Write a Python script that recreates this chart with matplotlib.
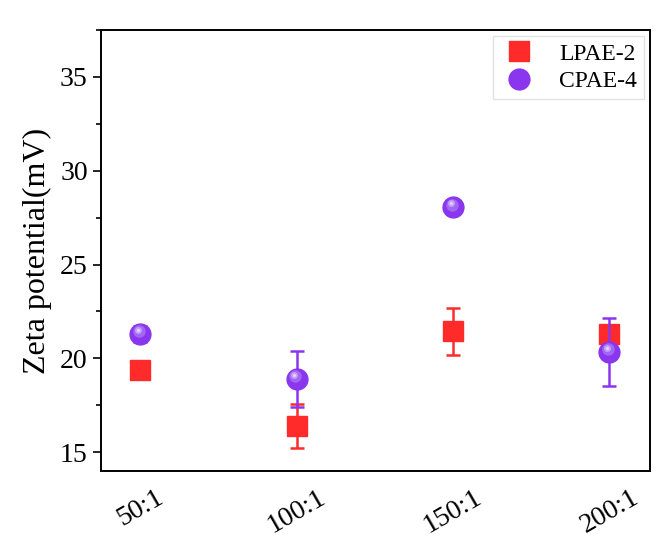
import matplotlib
matplotlib.use("Agg")
import matplotlib.pyplot as plt
from matplotlib.ticker import MultipleLocator
from matplotlib import transforms
from matplotlib.lines import Line2D

categories = ["50:1", "100:1", "150:1", "200:1"]
lpae_vals = [19.4, 16.4, 21.45, 21.3]
lpae_err = [0.35, 1.15, 1.25, 0.5]
cpae_vals = [21.3, 18.9, 28.05, 20.35]
cpae_err = [0.45, 1.5, 0.35, 1.8]

plt.rcParams['font.family'] = ['Liberation Serif', 'DejaVu Serif']

fig = plt.figure(figsize=(6.57, 5.43), dpi=100)
ax = fig.add_axes([101/657, 1 - 471/543, 549/657, 441/543])

x = list(range(len(categories)))
red = '#FF2B2B'
purple = '#8A35EE'

ax.errorbar(x, lpae_vals, yerr=lpae_err, fmt='s', color=red, ecolor=red,
            markersize=14, capsize=5, elinewidth=1.8, capthick=1.8, zorder=3)
ax.errorbar(x, cpae_vals, yerr=cpae_err, fmt='o', color=purple, ecolor=purple,
            markersize=15, capsize=5, elinewidth=1.8, capthick=1.8, zorder=4)
# sphere highlight
hl = transforms.offset_copy(ax.transData, fig=fig, x=-1.0, y=2.0, units='points')
ax.plot(x, cpae_vals, 'o', color='#A56CF5', markersize=9, alpha=0.9,
        markeredgewidth=0, transform=hl, zorder=5)
hl1 = transforms.offset_copy(ax.transData, fig=fig, x=-1.5, y=3.0, units='points')
ax.plot(x, cpae_vals, 'o', color='#C9A6FA', markersize=5, alpha=0.9,
        markeredgewidth=0, transform=hl1, zorder=6)
ax.plot(x, cpae_vals, 'o', color='#E6D8FD', markersize=2.2, alpha=0.9,
        markeredgewidth=0, transform=hl1, zorder=7)

ax.set_xlim(-0.25, 3.26)
ax.set_ylim(14.0, 37.5)
ax.set_xticks(x)
ax.set_xticklabels(categories, rotation=30, fontsize=20)
ax.tick_params(axis='x', length=0, pad=10)
ax.yaxis.set_major_locator(MultipleLocator(5))
ax.yaxis.set_minor_locator(MultipleLocator(2.5))
ax.tick_params(axis='y', which='major', direction='out', length=6, width=1.2, labelsize=20)
ax.tick_params(axis='y', which='minor', direction='out', length=3.5, width=1.2)
for s in ax.spines.values():
    s.set_linewidth(1.4)
ax.set_ylabel('Zeta potential(mV)', fontsize=23, labelpad=6)

handles = [Line2D([], [], marker='s', linestyle='none', color=red, markersize=14),
           Line2D([], [], marker='o', linestyle='none', color=purple, markersize=15)]
leg = ax.legend(handles, ['LPAE-2', 'CPAE-4'], loc='upper right', fontsize=17,
                frameon=True, fancybox=False, edgecolor='#DDDDDD', borderaxespad=0.25,
                handletextpad=0.9, labelspacing=0.25, borderpad=0.3, handlelength=1.6)
leg.get_frame().set_linewidth(1.0)

fig.savefig('out.png', dpi=100)
